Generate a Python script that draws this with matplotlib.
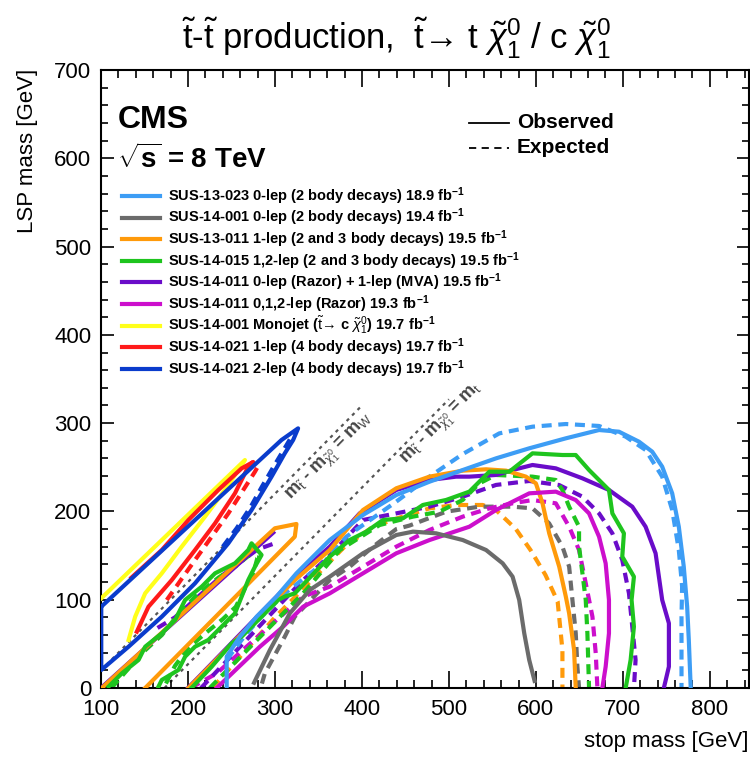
#!/usr/bin/env python3
"""Stop pair production exclusion summary (CMS, 8 TeV)."""

import matplotlib
matplotlib.use("Agg")
import matplotlib.pyplot as plt
from matplotlib.ticker import MultipleLocator

plt.rcParams.update({
    "font.family": ["Liberation Sans", "DejaVu Sans"],
    "mathtext.fontset": "custom",
    "mathtext.rm": "Liberation Sans",
    "mathtext.it": "Liberation Sans:italic",
    "mathtext.bf": "Liberation Sans:bold",
})

# --- colours (one per analysis, legend order) ---
C_LBLUE = "#3d9df5"
C_GRAY = "#6b6b6b"
C_ORANGE = "#ff9a0a"
C_GREEN = "#1ec41e"
C_PURPLE = "#6a0cc9"
C_MAGENTA = "#cc0fcc"
C_YELLOW = "#ffff1a"
C_RED = "#ff1a1a"
C_BLUE = "#0a3ccc"

# === contour data (stop mass, LSP mass) ===
# SUS-13-023 0-lep
lb_obs_x = [244.5, 244.5, 259.7, 278.9, 301.8, 324.7, 355.3, 363.0, 401.2, 439.5, 477.7, 515.9,
            554.1, 592.4, 634.4, 672.6, 695.5, 718.5, 733.7, 745.2, 756.7, 764.3, 770.0,
            773.9, 775.8, 778.0]
lb_obs_y = [0, 35.6, 58.2, 80.8, 103.5, 129.9, 160.1, 167.6, 196.0, 218.6, 233.7, 246.9,
            260.1, 271.5, 282.8, 292.2, 290.3, 279.0, 267.7, 250.7, 220.5, 182.7, 137.5,
            92.1, 54.4, 0]
lb_exp_x = [245.0, 250.2, 261.7, 280.8, 296.1, 311.3, 355.3, 382.1, 439.5, 477.7, 515.9, 557.9,
            596.1, 634.4, 672.6, 703.2, 726.1, 745.2, 756.7, 764.3, 768.1, 767.4, 767.4]
lb_exp_y = [32.0, 39.3, 54.4, 77.0, 92.1, 107.2, 141.2, 171.4, 211.1, 239.4, 265.0, 288.4,
            296.0, 299.0, 296.8, 284.7, 269.6, 239.4, 201.6, 156.3, 114.8, 80.8, 0]

# SUS-14-001 0-lep
gr_obs_x = [276.0, 294.2, 317.1, 340.0, 363.0, 401.2, 439.5, 458.6, 485.3, 515.9, 542.7, 561.8,
            573.2, 580.8, 586.6, 592.3, 598.5]
gr_obs_y = [6.0, 43.1, 84.6, 111.0, 126.1, 152.6, 173.3, 177.1, 175.2, 167.6, 156.3, 141.2,
            126.1, 99.7, 62.0, 31.8, 8.0]
gr_exp_x = [285.0, 288.4, 311.3, 322.8, 363.0, 386.0, 412.7, 439.5, 454.7, 496.8, 535.0, 573.2,
            596.1, 615.2, 630.5, 638.2, 642.0, 645.8, 647.7, 649.6]
gr_exp_y = [5.0, 16.6, 58.2, 80.8, 122.3, 137.4, 160.1, 180.0, 184.0, 199.7, 205.4, 205.4,
            203.5, 186.5, 160.1, 137.5, 99.7, 62.0, 24.2, 0]

# SUS-13-011 1-lep (3-body band and 2-body region)
or_band_x = [101.0, 299.9, 324.7, 322.8, 150.8]
or_band_y = [0, 180.9, 185.8, 171.4, 0]
or_obs_x = [200.5, 322.8, 363.0, 401.2, 439.5, 477.7, 515.9, 542.7, 565.6, 588.5, 600.0,
            607.6, 615.3, 626.8, 634.4, 638.2, 643.9, 645.8]
or_obs_y = [0, 122.3, 156.3, 201.6, 226.2, 239.4, 246.2, 247.7, 246.2, 239.4, 231.8,
            209.2, 175.2, 137.5, 103.5, 84.6, 43.1, 0]
or_exp_x = [228.0, 300.0, 340.0, 380.0, 412.7, 440.0, 477.7, 508.3, 538.8, 554.1, 577.0,
            594.0, 611.0, 625.0, 630.5, 630.5]
or_exp_y = [0, 80.0, 120.0, 160.0, 182.7, 192.0, 203.5, 207.3, 207.3, 201.6, 180.0,
            156.0, 128.0, 98.0, 43.0, 0]

# SUS-14-015 1,2-lep
gn_band_x = [108.7, 124.0, 143.2, 150.8, 169.9, 185.2, 196.7, 215.8, 231.1, 254.0, 269.3,
             273.1, 284.6, 277.0, 269.3, 261.7, 254.0, 238.7, 223.4, 208.1, 196.7, 189.0,
             169.9, 166.1]
gn_band_y = [1.6, 16.6, 31.8, 46.8, 61.9, 77.0, 99.7, 114.8, 129.9, 141.2, 156.3,
             163.9, 150.7, 137.4, 122.3, 103.5, 84.6, 69.5, 54.4, 46.8, 35.5, 20.4,
             9.1, 1.6]
gn_band_exp_x = [112.0, 128.0, 150.0, 170.0, 190.0, 210.0, 235.0, 255.0, 270.0, 280.0, 275.0,
                 265.0, 255.0, 240.0, 220.0, 200.0, 185.0, 172.0]
gn_band_exp_y = [0, 18.0, 42.0, 60.0, 85.0, 105.0, 125.0, 138.0, 150.0, 148.0, 130.0,
                 112.0, 92.0, 78.0, 62.0, 45.0, 25.0, 0]
gn_obs_x = [204.0, 227.3, 250.2, 261.7, 284.6, 296.1, 303.7, 311.3, 322.8, 340.0, 363.0, 385.9,
            405.0, 424.2, 447.1, 470.0, 496.8, 523.5, 546.5, 569.4, 596.1, 630.6, 645.8, 661.1,
            684.0, 687.9, 701.2, 699.3, 712.7, 710.0, 712.7, 708.9, 703.2]
gn_obs_y = [0, 24.2, 50.6, 58.2, 80.8, 92.1, 99.7, 103.5, 107.2, 125.0, 148.8, 167.6,
            177.1, 190.3, 192.2, 207.3, 213.0, 222.4, 245.0, 245.0, 265.8, 263.9, 263.9, 246.9,
            224.3, 197.8, 175.2, 148.8, 126.1, 99.7, 69.5, 31.8, 0]
gn_exp_x = [225.0, 260.0, 300.0, 335.0, 374.5, 420.3, 458.6, 489.1, 515.9, 535.0, 554.1, 596.1,
            622.9, 630.5, 638.2, 649.6, 649.6, 653.5, 657.3, 659.2, 661.1]
gn_exp_y = [0, 35.0, 75.0, 110.0, 156.3, 184.6, 194.1, 199.7, 213.0, 231.8, 241.3, 239.4,
            235.6, 224.3, 205.4, 182.7, 160.1, 129.9, 99.7, 62.0, 0]

# SUS-14-011 0-lep (Razor) + 1-lep (MVA)
pu_band_x = [100.0, 298.0]
pu_band_y = [0, 176.0]
pu_band_exp_x = [165.0, 185.0, 210.0, 240.0, 258.0, 280.0, 300.0]
pu_band_exp_y = [68.0, 80.0, 102.0, 128.0, 141.0, 157.0, 164.0]
pu_obs_x = [200.0, 322.0, 363.0, 397.4, 439.5, 477.7, 508.3, 523.5, 554.1, 573.2, 596.1, 622.9,
            653.5, 684.0, 710.8, 726.1, 737.6, 745.2, 752.9, 752.9, 747.1]
pu_obs_y = [0, 124.0, 160.1, 197.8, 224.3, 235.6, 239.4, 239.4, 241.3, 246.9, 252.6, 248.8,
            237.5, 224.3, 205.4, 182.7, 152.6, 99.7, 73.3, 24.2, 0]
pu_exp_x = [215.0, 330.0, 363.0, 401.2, 439.5, 477.7, 515.9, 554.1, 592.4, 626.7, 653.5, 672.6,
            687.9, 699.3, 707.0, 710.8, 714.6, 712.7]
pu_exp_y = [0, 120.0, 150.0, 190.3, 197.8, 205.4, 216.7, 230.0, 234.5, 229.9, 216.7, 197.8,
            175.2, 145.0, 107.2, 69.5, 31.8, 0]

# SUS-14-011 0,1,2-lep (Razor)
mg_obs_x = [233.0, 282.7, 309.4, 332.4, 363.0, 401.2, 439.5, 477.7, 523.5, 554.1, 592.4, 622.9,
            645.8, 661.1, 672.6, 680.2, 684.0, 684.0, 680.2, 676.4]
mg_obs_y = [0, 46.8, 69.5, 92.1, 107.2, 129.9, 152.6, 167.6, 182.7, 201.6, 220.5, 222.4,
            212.9, 197.8, 171.4, 141.2, 99.7, 62.0, 24.2, 0]
mg_exp_x = [203.0, 233.0, 271.0, 301.8, 332.4, 363.0, 401.2, 439.5, 477.7, 515.9, 546.5, 573.2,
            596.1, 622.9, 638.2, 649.6, 657.3, 665.0, 668.8, 670.7]
mg_exp_y = [0, 16.6, 50.0, 77.0, 103.5, 114.8, 137.4, 160.1, 179.0, 194.1, 203.5, 209.2,
            212.9, 209.2, 182.7, 156.3, 118.6, 80.8, 39.3, 0]

# SUS-14-001 monojet
ye_obs_x = [131.7, 139.3, 150.8, 169.9, 192.8, 219.6, 245.0, 265.5, 100.3]
ye_obs_y = [54.4, 80.8, 107.3, 129.9, 160.1, 194.1, 228.0, 258.2, 101.6]

# SUS-14-021 1-lep
rd_obs_x = [141.2, 154.6, 181.4, 208.1, 231.1, 254.0, 269.3, 275.0, 261.7, 234.9, 200.5, 169.9,
            135.0]
rd_obs_y = [63.8, 92.1, 122.3, 156.3, 186.5, 220.5, 250.7, 256.0, 248.8, 224.3, 190.3, 156.3,
            125.0]
rd_exp_x = [175.6, 208.1, 246.4, 277.0, 281.0]
rd_exp_y = [99.7, 145.0, 197.8, 245.0, 252.0]

# SUS-14-021 2-lep
bl_obs_x = [100.3, 100.3, 131.7, 169.9, 208.1, 246.4, 273.1, 296.1, 311.3, 320.9, 326.6, 307.5,
            100.3]
bl_obs_y = [92.1, 20.4, 46.8, 80.8, 118.6, 163.9, 201.6, 239.4, 265.8, 280.9, 294.1, 280.9,
            92.1]
bl_exp_x = [240.0, 256.0, 272.0, 285.0, 298.0, 312.0, 321.0]
bl_exp_y = [160.0, 181.0, 205.0, 228.0, 250.0, 273.0, 288.0]

# kinematic limits
mw_line_x = [100, 400]
mw_line_y = [20, 320]
mt_line_x = [173, 500]
mt_line_y = [0, 327]

legend_labels = [
    r"SUS-13-023 0-lep (2 body decays) 18.9 fb$^{\mathbf{-1}}$",
    r"SUS-14-001 0-lep (2 body decays) 19.4 fb$^{\mathbf{-1}}$",
    r"SUS-13-011 1-lep (2 and 3 body decays) 19.5 fb$^{\mathbf{-1}}$",
    r"SUS-14-015 1,2-lep (2 and 3 body decays) 19.5 fb$^{\mathbf{-1}}$",
    r"SUS-14-011 0-lep (Razor) + 1-lep (MVA) 19.5 fb$^{\mathbf{-1}}$",
    r"SUS-14-011 0,1,2-lep (Razor) 19.3 fb$^{\mathbf{-1}}$",
    r"SUS-14-001 Monojet ($\tilde{\mathrm{t}}$→ c $\tilde{\chi}^{0}_{1}$) 19.7 fb$^{\mathbf{-1}}$",
    r"SUS-14-021 1-lep (4 body decays) 19.7 fb$^{\mathbf{-1}}$",
    r"SUS-14-021 2-lep (4 body decays) 19.7 fb$^{\mathbf{-1}}$",
]
legend_colors = [C_LBLUE, C_GRAY, C_ORANGE, C_GREEN, C_PURPLE, C_MAGENTA, C_YELLOW, C_RED, C_BLUE]

LW = 3.0
DASH = (2.4, 1.6)

fig = plt.figure(figsize=(7.5, 7.59), dpi=100)
ax = fig.add_axes([101 / 750, 1 - 688 / 759, 648 / 750, 618 / 759])

# theory lines
for xs, ys in [(mw_line_x, mw_line_y), (mt_line_x, mt_line_y)]:
    ax.plot(xs, ys, color="#555555", lw=1.6, ls=(0, (1.5, 2.0)), zorder=1)

# expected (dashed)
expected = [
    (pu_band_exp_x, pu_band_exp_y, C_PURPLE),
    (gn_band_exp_x, gn_band_exp_y, C_GREEN),
    (or_exp_x, or_exp_y, C_ORANGE),
    (gr_exp_x, gr_exp_y, C_GRAY),
    (mg_exp_x, mg_exp_y, C_MAGENTA),
    (pu_exp_x, pu_exp_y, C_PURPLE),
    (gn_exp_x, gn_exp_y, C_GREEN),
    (lb_exp_x, lb_exp_y, C_LBLUE),
    (rd_exp_x, rd_exp_y, C_RED),
    (bl_exp_x, bl_exp_y, C_BLUE),
]
for xs, ys, c in expected:
    ax.plot(xs, ys, color=c, lw=LW, ls=(0, DASH), zorder=2)

# observed (solid)
observed = [
    (pu_band_x, pu_band_y, C_PURPLE),
    (pu_obs_x, pu_obs_y, C_PURPLE),
    (or_band_x, or_band_y, C_ORANGE),
    (or_obs_x, or_obs_y, C_ORANGE),
    (mg_obs_x, mg_obs_y, C_MAGENTA),
    (gr_obs_x, gr_obs_y, C_GRAY),
    (gn_band_x, gn_band_y, C_GREEN),
    (gn_obs_x, gn_obs_y, C_GREEN),
    (lb_obs_x, lb_obs_y, C_LBLUE),
    (ye_obs_x, ye_obs_y, C_YELLOW),
    (rd_obs_x, rd_obs_y, C_RED),
    (bl_obs_x, bl_obs_y, C_BLUE),
]
for xs, ys, c in observed:
    ax.plot(xs, ys, color=c, lw=LW, solid_joinstyle="round", zorder=3)

ax.set_xlim(100, 845)
ax.set_ylim(0, 700)
ax.xaxis.set_major_locator(MultipleLocator(100))
ax.xaxis.set_minor_locator(MultipleLocator(20))
ax.yaxis.set_major_locator(MultipleLocator(100))
ax.yaxis.set_minor_locator(MultipleLocator(20))
ax.tick_params(which="both", direction="in", top=True, right=True, labelsize=16, width=1.2)
ax.tick_params(axis="x", which="major", length=12, pad=8)
ax.tick_params(axis="x", which="minor", length=6)
ax.tick_params(axis="y", which="major", length=9, pad=7)
ax.tick_params(axis="y", which="minor", length=5)
for sp in ax.spines.values():
    sp.set_linewidth(1.5)

# axis titles (ROOT style, at the axis ends)
fig.text(748 / 750, 1 - 742 / 759, "stop mass [GeV]", ha="right", va="center", fontsize=16)
fig.text(28 / 750, 1 - 69 / 759, "LSP mass [GeV]", ha="center", va="top", rotation=90,
         fontsize=16)

fig.text(396 / 750, 1 - 38 / 759,
         r"$\tilde{\mathrm{t}}$-$\tilde{\mathrm{t}}$ production,  $\tilde{\mathrm{t}}$→ t "
         r"$\tilde{\chi}^{0}_{1}$ / c $\tilde{\chi}^{0}_{1}$",
         ha="center", va="center", fontsize=25)

# CMS label
ax.text(0.026, 1 - 58 / 618, "CMS", transform=ax.transAxes, fontsize=23, fontweight="bold",
        ha="left", va="baseline")
ax.text(0.024, 1 - 98 / 618, r"$\sqrt{\mathbf{s}}$ = 8 TeV", transform=ax.transAxes,
        fontsize=20, fontweight="bold", ha="left", va="baseline")

# observed / expected key
for i, (lab, ls) in enumerate([("Observed", "-"), ("Expected", (0, (4, 3)))]):
    yk = (688 - (123 + i * 24.5)) / 618
    ax.plot([(469 - 101) / 648, (509 - 101) / 648], [yk, yk], color="black", lw=1.3, ls=ls,
            transform=ax.transAxes)
    ax.text((517 - 101) / 648, yk, lab, transform=ax.transAxes, fontsize=15,
            fontweight="bold", ha="left", va="center")

# analysis legend
for i, (lab, c) in enumerate(zip(legend_labels, legend_colors)):
    yk = (688 - (196 + i * 21.6)) / 618
    ax.plot([(122 - 101) / 648, (160 - 101) / 648], [yk, yk], color=c, lw=LW,
            transform=ax.transAxes)
    ax.text((168 - 101) / 648, yk, lab, transform=ax.transAxes, fontsize=10.5,
            fontweight="bold", ha="left", va="center")

# kinematic-limit labels
ax.text(364, 261, r"m$_{\tilde{\mathrm{t}}}$ - m$_{\tilde{\chi}^{0}_{1}}$ = m$_{\mathrm{W}}$",
        rotation=45.5, rotation_mode="anchor", ha="center", va="center", fontsize=13,
        fontweight="bold", color="#444444")
ax.text(492, 298, r"m$_{\tilde{\mathrm{t}}}$ - m$_{\tilde{\chi}^{0}_{1}}$ = m$_{\mathrm{t}}$",
        rotation=45.5, rotation_mode="anchor", ha="center", va="center", fontsize=13,
        fontweight="bold", color="#444444")

fig.savefig("out.png", dpi=100)
print("Saved out.png")
